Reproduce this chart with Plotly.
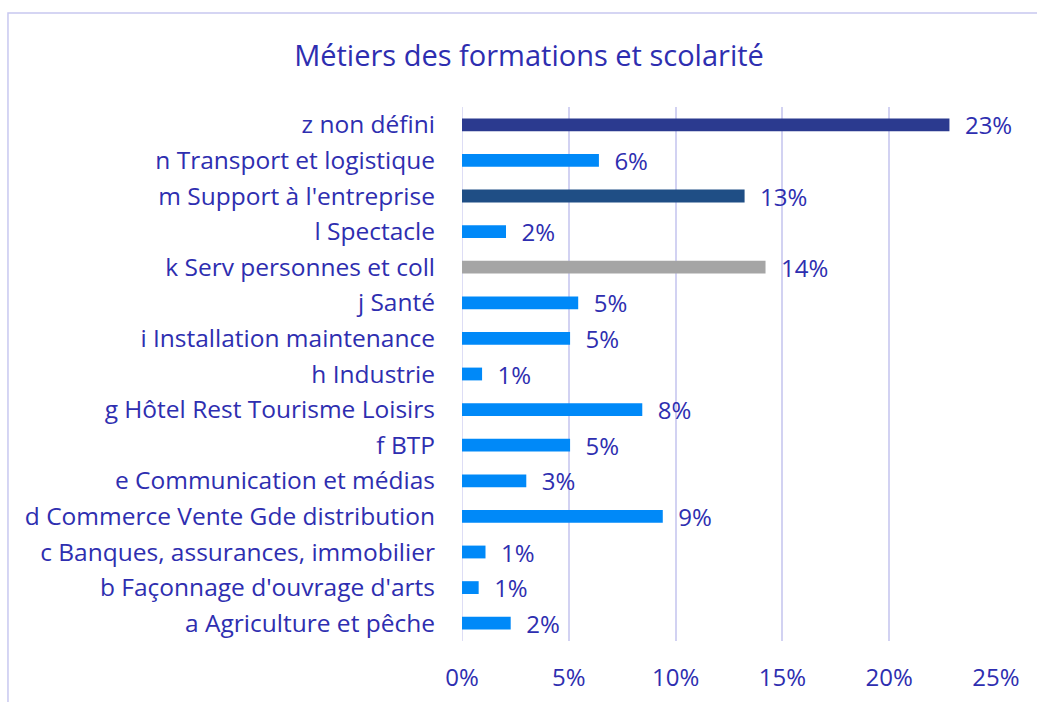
import plotly.graph_objects as go

categories = [
    "a Agriculture et pêche",
    "b Façonnage d'ouvrage d'arts",
    "c Banques, assurances, immobilier",
    "d Commerce Vente Gde distribution",
    "e Communication et médias",
    "f BTP",
    "g Hôtel Rest Tourisme Loisirs",
    "h Industrie",
    "i Installation maintenance",
    "j Santé",
    "k Serv personnes et coll",
    "l Spectacle",
    "m Support à l'entreprise",
    "n Transport et logistique",
    "z non défini",
]
values = [0.0228, 0.0078, 0.0110, 0.0940, 0.0301, 0.0506, 0.0844, 0.0094,
          0.0506, 0.0544, 0.1421, 0.0206, 0.1323, 0.0641, 0.2282]
bar_colors = ["#0089F8"] * 10 + ["#A5A5A5", "#0089F8", "#1F4E85", "#0089F8", "#2B3A8F"]
x_ticks = [0, 0.05, 0.10, 0.15, 0.20, 0.25]
x_tick_labels = ["0%", "5%", "10%", "15%", "20%", "25%"]
title_text = "Métiers des formations et scolarité"

TEXT = "#2E2EB0"
GRID = "#D2D2F2"
FONT = "Open Sans"

W, H = 1037, 702
L, R, T, B = 461.7, 40.5, 107, 61
pw, ph = W - L - R, H - T - B

def px_x(p):
    return (p - L) / pw

def px_y(p):
    return (H - B - p) / ph

fig = go.Figure(go.Bar(
    x=values,
    y=categories,
    orientation="h",
    marker=dict(color=bar_colors, line=dict(width=0)),
    width=0.36,
    text=["  " + f"{v:.0%}" for v in values],
    textposition="outside",
    constraintext="none",
    textfont=dict(color=TEXT, size=24, family=FONT),
    cliponaxis=False,
    hoverinfo="skip",
))

fig.update_layout(
    width=W, height=H,
    margin=dict(l=L, r=R, t=T, b=B, autoexpand=False),
    paper_bgcolor="white",
    plot_bgcolor="white",
    showlegend=False,
    font=dict(family=FONT, color=TEXT, size=24),
    title=dict(text=title_text, x=529 / W, xref="container", xanchor="center",
               y=1 - 56 / H, yref="container", yanchor="middle",
               font=dict(size=29, color=TEXT, family=FONT)),
    xaxis=dict(
        range=[0, 0.25],
        tickvals=x_ticks,
        ticktext=x_tick_labels,
        showgrid=True, gridcolor=GRID, gridwidth=1.5,
        zeroline=False, showline=False,
        ticks="", ticklabelstandoff=20,
        tickfont=dict(size=24, color=TEXT, family=FONT),
        fixedrange=True,
    ),
    yaxis=dict(
        categoryorder="array", categoryarray=categories,
        showgrid=False, zeroline=False,
        showline=False,
        ticks="", ticklabelstandoff=26,
        tickfont=dict(size=24.5, color=TEXT, family=FONT),
        fixedrange=True,
    ),
    shapes=[
        dict(type="rect", xref="paper", yref="paper",
             x0=px_x(7), x1=px_x(1060), y0=px_y(720), y1=px_y(13),
             line=dict(color="#C8C8F0", width=1.5), fillcolor="rgba(0,0,0,0)", layer="below"),
        dict(type="line", xref="x", yref="paper", x0=0, x1=0, y0=0, y1=1,
             line=dict(color=GRID, width=1.5), layer="below"),
    ],
)

fig.write_html("out.html", config={"displayModeBar": False},
               post_script="document.body.style.margin='0';")
